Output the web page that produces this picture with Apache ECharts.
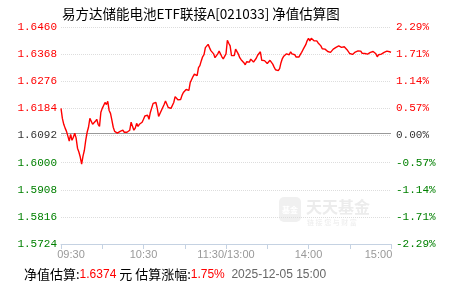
<!DOCTYPE html>
<html><head><meta charset="utf-8">
<script src="https://cdn.jsdelivr.net/npm/echarts@6/dist/echarts.min.js"></script>
<style>html,body{margin:0;padding:0;background:#fff}#c{width:451px;height:281px}</style>
</head><body><div id="c"></div>
<script>
const titleText = '易方达储能电池ETF联接A[021033] 净值估算图';
const baseNav = 1.6092;
const navMin = 1.5724;
const navMax = 1.6460;
const navTicks = ['1.5724','1.5816','1.5908','1.6000','1.6092','1.6184','1.6276','1.6368','1.6460'];
const pctTicks = ['-2.29%','-1.71%','-1.14%','-0.57%','0.00%','0.57%','1.14%','1.71%','2.29%'];
const timeTickLabels = {0:'09:30', 60:'10:30', 120:'11:30/13:00', 180:'14:00', 240:'15:00'};
const lastNav = '1.6374';
const lastPct = '1.75%';
const lastTime = '2025-12-05 15:00';
const navValues = [
1.6184,1.6150,1.6130,1.6117,1.6106,1.6090,1.6073,1.6096,1.6076,1.6086,
1.6100,1.6083,1.6049,1.6036,1.6019,1.5995,1.6022,1.6042,1.6076,1.6103,
1.6120,1.6150,1.6147,1.6130,1.6133,1.6140,1.6147,1.6130,1.6123,1.6171,
1.6184,1.6194,1.6204,1.6197,1.6208,1.6177,1.6167,1.6144,1.6120,1.6106,
1.6100,1.6100,1.6103,1.6106,1.6110,1.6110,1.6103,1.6100,1.6103,1.6106,
1.6110,1.6137,1.6123,1.6110,1.6117,1.6133,1.6123,1.6130,1.6133,1.6137,
1.6147,1.6158,1.6154,1.6161,1.6147,1.6171,1.6177,1.6201,1.6203,1.6204,
1.6184,1.6157,1.6157,1.6177,1.6181,1.6197,1.6209,1.6206,1.6187,1.6184,
1.6184,1.6187,1.6204,1.6224,1.6221,1.6213,1.6209,1.6214,1.6228,1.6238,
1.6243,1.6248,1.6251,1.6245,1.6272,1.6282,1.6292,1.6300,1.6302,1.6295,
1.6322,1.6329,1.6345,1.6359,1.6366,1.6390,1.6396,1.6401,1.6390,1.6380,
1.6376,1.6369,1.6356,1.6356,1.6369,1.6378,1.6380,1.6359,1.6352,1.6352,
1.6369,1.6415,1.6405,1.6396,1.6363,1.6358,1.6363,1.6385,1.6381,1.6368,
1.6356,1.6349,1.6344,1.6339,1.6332,1.6342,1.6346,1.6341,1.6351,1.6346,
1.6341,1.6346,1.6354,1.6364,1.6370,1.6376,1.6347,1.6346,1.6346,1.6347,
1.6336,1.6332,1.6347,1.6341,1.6334,1.6324,1.6315,1.6312,1.6312,1.6319,
1.6339,1.6353,1.6361,1.6364,1.6369,1.6367,1.6366,1.6376,1.6369,1.6364,
1.6366,1.6358,1.6355,1.6358,1.6366,1.6374,1.6383,1.6386,1.6400,1.6413,
1.6422,1.6413,1.6422,1.6419,1.6413,1.6418,1.6413,1.6406,1.6400,1.6396,
1.6386,1.6386,1.6385,1.6380,1.6377,1.6377,1.6374,1.6376,1.6385,1.6385,
1.6391,1.6395,1.6396,1.6395,1.6391,1.6391,1.6393,1.6388,1.6383,1.6378,
1.6370,1.6366,1.6367,1.6371,1.6375,1.6377,1.6379,1.6382,1.6378,1.6371,
1.6368,1.6370,1.6370,1.6368,1.6369,1.6374,1.6377,1.6377,1.6377,1.6369,
1.6359,1.6366,1.6368,1.6368,1.6369,1.6374,1.6377,1.6378,1.6378,1.6376,1.6374
];

function pad(n){return (n<10?'0':'')+n;}
const times = [];
for (let i = 0; i < navValues.length; i++) {
  const m = i <= 120 ? 9*60+30+i : 13*60+(i-120);
  times.push(pad(Math.floor(m/60)) + ':' + pad(m%60));
}

const RED = '#ff0000', GREEN = '#008000', DARK = '#333333';
function tickStyle(i){ return i > 4 ? 'r' : (i < 4 ? 'g' : 'k'); }
const tickRich = {
  r: {color: RED, fontFamily: 'Liberation Mono', fontSize: 11},
  g: {color: GREEN, fontFamily: 'Liberation Mono', fontSize: 11},
  k: {color: DARK, fontFamily: 'Liberation Mono', fontSize: 11}
};

const chart = echarts.init(document.getElementById('c'), null, {renderer: 'canvas'});
chart.setOption({
  animation: false,
  backgroundColor: '#ffffff',
  title: [{
    text: titleText, left: 57, top: 2,
    textStyle: {fontFamily: 'Noto Sans CJK SC', fontSize: 13.5, fontWeight: 'normal', color: '#000'}
  }, {
    text: '{k|净值估算:}{r|' + lastNav + '}{k| 元 估算涨幅:}{r|' + lastPct + '}{d|  ' + lastTime + '}',
    left: 19, top: 263,
    textStyle: {
      fontWeight: 'normal',
      rich: {
        k: {fontFamily: 'Noto Sans CJK SC', fontSize: 13, fontWeight: 'normal', color: '#000'},
        r: {fontFamily: 'Liberation Sans', fontSize: 12, fontWeight: 'normal', color: RED},
        d: {fontFamily: 'Liberation Sans', fontSize: 12, fontWeight: 'normal', color: '#666'}
      }
    }
  }],
  graphic: [{
    type: 'group', left: 279, top: 197, z: 0, silent: true,
    children: [
      {type: 'rect', shape: {x: 0, y: 0, width: 22, height: 25, r: 5}, style: {fill: '#f0f0f0'}},
      {type: 'text', x: 11, y: 13, style: {text: '基金', fill: '#fff', font: 'bold 8px "Noto Sans CJK SC"', align: 'center', verticalAlign: 'middle'}},
      {type: 'text', x: 27, y: 2, style: {text: '天天基金', fill: '#ececec', font: 'bold 16px "Noto Sans CJK SC"'}},
      {type: 'text', x: 28, y: 22, style: {text: '链 接 您 与 财 富', fill: '#ececec', font: '7px "Noto Sans CJK SC"'}}
    ]
  }],
  grid: {left: 61, right: 60, top: 27, height: 217, containLabel: false},
  xAxis: {
    type: 'category', data: times, boundaryGap: false,
    axisLine: {lineStyle: {color: '#c5d2e2', width: 1}},
    axisTick: {interval: 29, length: 5, lineStyle: {color: '#c5d2e2'}},
    splitLine: {show: false},
    axisLabel: {
      interval: 59, margin: 5,
      formatter: function (v, i) {
        const s = timeTickLabels[i] || '';
        if (i === 0) return '{a|' + s + '}';
        if (i === navValues.length - 1) return '{b|' + s + '}';
        return '{c|' + s + '}';
      },
      rich: {
        a: {color: '#999', fontFamily: 'Liberation Sans', fontSize: 11, padding: [0, 0, 0, 20]},
        b: {color: '#999', fontFamily: 'Liberation Sans', fontSize: 11, padding: [0, 25, 0, 0]},
        c: {color: '#999', fontFamily: 'Liberation Sans', fontSize: 11}
      }
    }
  },
  yAxis: [{
    type: 'value', position: 'left', min: 0, max: navTicks.length - 1, interval: 1,
    axisLine: {show: false}, axisTick: {show: false},
    splitLine: {show: true, lineStyle: {color: '#dddddd', type: 'dotted', width: 1}},
    axisLabel: {margin: 4, formatter: function (v) { return '{' + tickStyle(v) + '|' + navTicks[v] + '}'; }, rich: tickRich}
  }, {
    type: 'value', position: 'right', min: 0, max: pctTicks.length - 1, interval: 1,
    axisLine: {show: false}, axisTick: {show: false}, splitLine: {show: false},
    axisLabel: {margin: 5, formatter: function (v) { return '{' + tickStyle(v) + '|' + pctTicks[v] + '}'; }, rich: tickRich}
  }, {
    type: 'value', min: navMin, max: navMax, show: false
  }],
  series: [{
    type: 'line', yAxisIndex: 2, data: navValues, symbol: 'none', showSymbol: false,
    lineStyle: {color: RED, width: 1.4}, z: 5,
    markLine: {
      silent: true, symbol: 'none', label: {show: false},
      lineStyle: {color: '#999999', type: 'solid', width: 1},
      data: [{yAxis: baseNav}]
    }
  }]
});
</script></body></html>
